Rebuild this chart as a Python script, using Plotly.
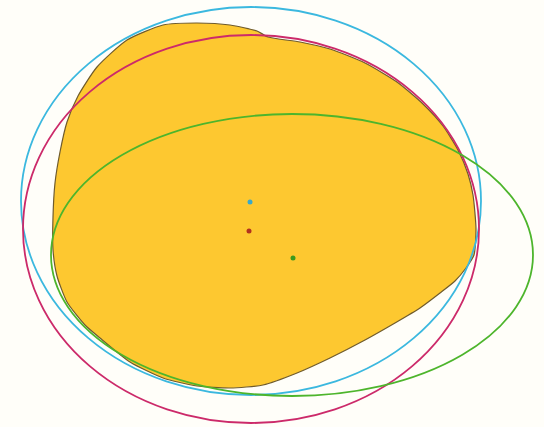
import plotly.graph_objects as go

# Outline of the region (clockwise from its upper-left edge), in plot units
blob_x = [163, 197, 230, 257, 268, 300, 330, 365, 397, 423, 443, 458, 468, 473, 476, 474,
          466, 455, 440, 420, 395, 365, 330, 297, 263, 230, 197, 163, 130, 100, 85,
          67, 57, 53, 53, 55, 60, 67, 78, 97, 127]
blob_y = [25, 23, 25, 31, 37, 42, 49, 63, 82, 104, 126, 150, 174, 195, 229, 255,
          268, 281, 293, 308, 323, 340, 358, 373, 385, 388, 386, 378, 362, 338, 325,
          302, 276, 250, 217, 183, 152, 122, 96, 67, 40]

# Fitted ellipses: centre, semi-axes
ellipse_names = ["cyan fit", "red fit", "green fit"]
center_x = [251, 251, 292]
center_y = [201, 229, 255]
semi_x = [230, 228, 241]
semi_y = [194, 194, 141]

# Centre markers of the fits
dot_x = [250, 249, 293]
dot_y = [202, 231, 258]

line_colors = ["#3bb8df", "#cc2a6a", "#4db52c"]
dot_colors = ["#3aa9c9", "#b2321e", "#3c9a1c"]

fig = go.Figure()

fig.add_trace(go.Scatter(
    x=blob_x + [blob_x[0]], y=blob_y + [blob_y[0]],
    mode="lines", fill="toself", fillcolor="#fdc830",
    line=dict(color="#6f5b2c", width=1.2, shape="spline", smoothing=0.6),
    hoverinfo="skip", showlegend=False,
))

for i, name in enumerate(ellipse_names):
    fig.add_shape(
        type="circle", xref="x", yref="y",
        x0=center_x[i] - semi_x[i], x1=center_x[i] + semi_x[i],
        y0=center_y[i] - semi_y[i], y1=center_y[i] + semi_y[i],
        line=dict(color=line_colors[i], width=1.8), layer="above", name=name,
    )

fig.add_trace(go.Scatter(
    x=dot_x, y=dot_y, mode="markers",
    marker=dict(color=dot_colors, size=5),
    hoverinfo="skip", showlegend=False,
))

fig.update_layout(
    width=544, height=427, autosize=False,
    margin=dict(l=0, r=0, t=0, b=0),
    paper_bgcolor="#fffef9", plot_bgcolor="#fffef9",
    xaxis=dict(range=[0, 544], visible=False, fixedrange=True),
    yaxis=dict(range=[427, 0], visible=False, fixedrange=True),
    showlegend=False,
)

fig.write_html("out.html", config={"displayModeBar": False})
